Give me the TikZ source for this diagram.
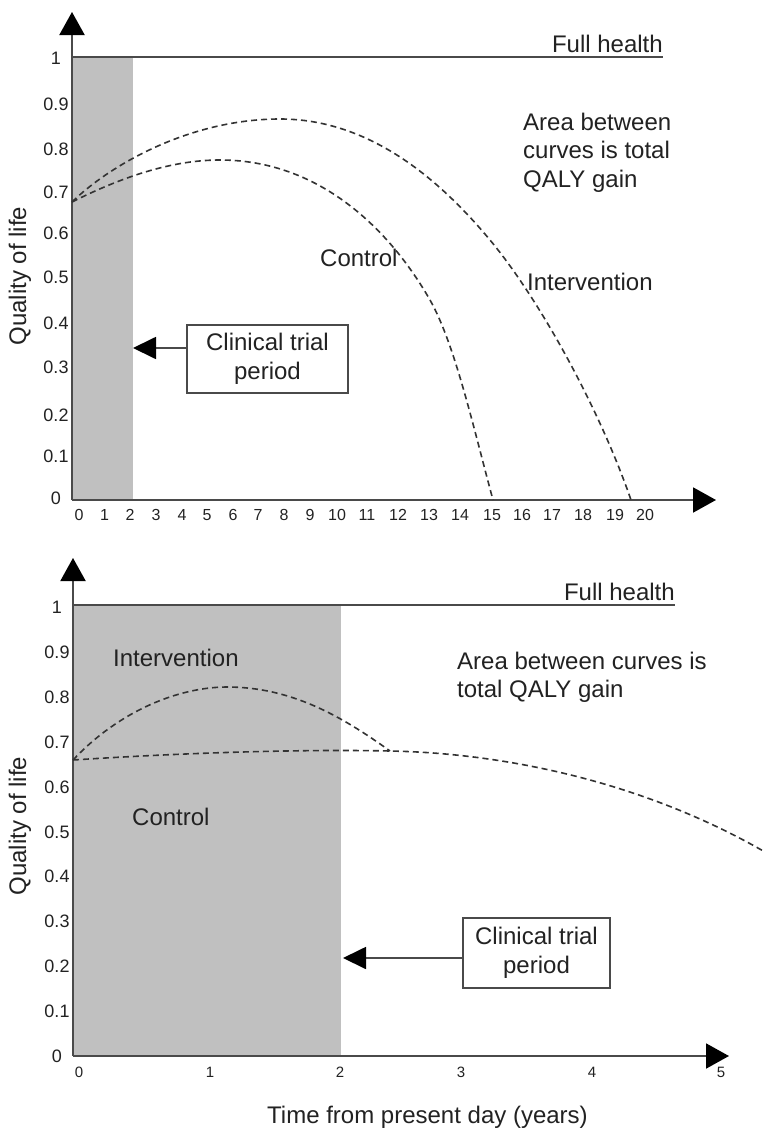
\documentclass[tikz,border=0pt]{standalone}
\usepackage{fontspec}
\setmainfont{Liberation Sans}
\usetikzlibrary{arrows.meta}
\definecolor{axisgray}{HTML}{4A4A4A}
\definecolor{fillgray}{HTML}{C0C0C0}
\definecolor{txt}{HTML}{222222}
\definecolor{curve}{HTML}{333333}
\begin{document}
\begin{tikzpicture}[x=1pt,y=-1pt,
  axisline/.style={draw=axisgray,line width=2pt,-{Triangle[length=23pt,width=25pt,color=black]}},
  fullline/.style={draw=axisgray,line width=1.6pt},
  shade/.style={fill=fillgray,draw=none},
  curveline/.style={draw=curve,line width=1.6pt,dash pattern=on 6pt off 4pt},
  big/.style={font=\fontsize{24}{28.5}\selectfont,text=txt,inner sep=0pt},
  ytick/.style={font=\fontsize{18}{20}\selectfont,text=txt,inner sep=0pt},
  xtick/.style={font=\fontsize{16}{18}\selectfont,text=txt,inner sep=0pt},
  xtickb/.style={font=\fontsize{15}{17}\selectfont,text=txt,inner sep=0pt},
  trialbox/.style={draw=axisgray,line width=1.6pt,fill=white,align=center,inner sep=0pt,
     font=\fontsize{24}{29}\selectfont,text=txt},
  pointer/.style={draw=axisgray,line width=1.8pt,-{Triangle[length=23pt,width=22pt,color=black]}}]
\useasboundingbox (0,0) rectangle (767,1135);
\fill[white] (0,0) rectangle (767,1135);

% ================= TOP CHART =================
\fill[shade] (72,57) rectangle (133,500);
\coordinate (o1) at (72,500);
\coordinate (ytip1) at (72,12);
\coordinate (xtip1) at (716,500);
\coordinate (fh1a) at (72,57);
\coordinate (fh1b) at (663,57);
\draw[fullline] (fh1a) -- (fh1b);
\draw[axisline] (o1) -- (ytip1);
\draw[axisline] (o1) -- (xtip1);
\node[big,anchor=base east] (fulltop) at (663,52) {Full health};

% y tick labels
\foreach \v/\y in {1/58,0.9/104,0.8/149,0.7/192,0.6/233,0.5/277,0.4/323,0.3/367,0.2/415,0.1/456,0/498}
  \node[ytick] (yt1-\v) at (56,\y) {\v};
% x tick labels
\foreach \v/\x in {0/79,1/104.5,2/130,3/156,4/182,5/207,6/233,7/258,8/284,9/310,10/337,11/367,12/398,13/429,14/460,15/492,16/522,17/552,18/583,19/615,20/645}
  \node[xtick] (xt1-\v) at (\x,515) {\v};

% curves
\coordinate (s1) at (72,202);
\draw[curveline] (s1) .. controls (110,165) and (190,119) .. (280,119)
  .. controls (370,119) and (440,180) .. (490,240)
  .. controls (540,300) and (600,410) .. (631,500);
\draw[curveline] (s1) .. controls (120,178) and (170,160) .. (220,160)
  .. controls (320,160) and (390,230) .. (430,300)
  .. controls (455,344) and (474,430) .. (493,500);

\node[big,anchor=west,align=left] (area1) at (523,152.5) {Area between\\curves is total\\QALY gain};
\node[big,anchor=west] (ctrl1) at (320,258) {Control};
\node[big,anchor=west] (int1) at (527,282) {Intervention};
\node[big,rotate=90] (qol1) at (20,276) {Quality of life};

\node[trialbox,minimum width=161pt,minimum height=68pt] (box1) at (267.5,359) {Clinical trial\\period};
\coordinate (tgt1) at (133,348);
\draw[pointer] (box1.west |- tgt1) -- (tgt1);

% ================= BOTTOM CHART =================
\fill[shade] (73,605) rectangle (341,1056);
\coordinate (o2) at (73,1056);
\coordinate (ytip2) at (73,558);
\coordinate (xtip2) at (729,1056);
\coordinate (fh2a) at (73,605);
\coordinate (fh2b) at (675,605);
\draw[fullline] (fh2a) -- (fh2b);
\draw[axisline] (o2) -- (ytip2);
\draw[axisline] (o2) -- (xtip2);
\node[big,anchor=base east] (fullbot) at (675,600) {Full health};

\foreach \v/\y in {1/607,0.9/652,0.8/697,0.7/742,0.6/787,0.5/832,0.4/876,0.3/921,0.2/966,0.1/1011,0/1056}
  \node[ytick] (yt2-\v) at (57,\y) {\v};
\foreach \v/\x in {0/79,1/210,2/340,3/461,4/592,5/721}
  \node[xtickb] (xt2-\v) at (\x,1072) {\v};

\coordinate (s2) at (73,760);
\coordinate (j2) at (390,751);
\draw[curveline] (s2) .. controls (120,710) and (180,687) .. (227,687)
  .. controls (290,687) and (340,715) .. (j2);
\draw[curveline] (s2) .. controls (180,753) and (300,749) .. (j2)
  .. controls (500,753) and (640,780) .. (765,852);

\node[big,anchor=west] (int2) at (113,658) {Intervention};
\node[big,anchor=west] (ctrl2) at (132,817) {Control};
\node[big,anchor=west,align=left] (area2) at (457,677.5) {Area between curves is\\total QALY gain};
\node[big,rotate=90] (qol2) at (20,826) {Quality of life};

\node[trialbox,minimum width=147pt,minimum height=70pt] (box2) at (536.5,953) {Clinical trial\\period};
\coordinate (tgt2) at (343,958);
\draw[pointer] (box2.west |- tgt2) -- (tgt2);

\node[big,anchor=base west] (xlabel) at (267,1123) {Time from present day (years)};
\end{tikzpicture}
\end{document}
